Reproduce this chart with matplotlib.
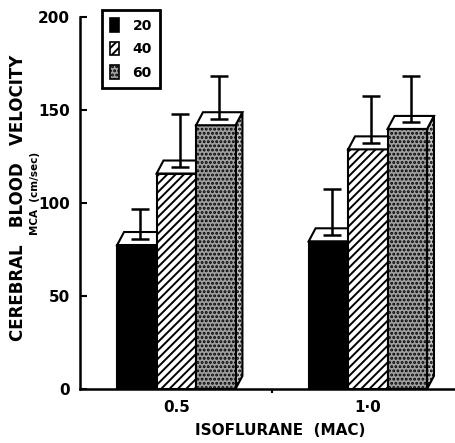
import matplotlib.pyplot as plt
from matplotlib.patches import Polygon, Patch

plt.rcParams['font.family'] = ['DejaVu Sans']
plt.rcParams['font.weight'] = 'bold'
plt.rcParams['hatch.linewidth'] = 1.4

mac_labels = ['0.5', '1·0']
group_labels = ['20', '40', '60']
means = [[77.5, 116, 142],
         [79.5, 129, 140]]
sds = [[19.5, 32, 26.5],
       [28, 29, 28.5]]

faces = ['black', 'white', '#a0a0a0']
hatches = [None, '////', '....']
side_faces = ['black', 'white', '#c4c4c4']

w = 0.206     # bar width
dx = 0.036    # depth of the 3D top face (x)
dy = 7.0      # depth of the 3D top face (y)

fig = plt.figure(figsize=(4.56, 4.43), dpi=100)
ax = fig.add_axes([0.175, 0.122, 0.825, 0.8385])

for m in range(len(mac_labels)):
    for i in range(len(group_labels)):
        x0 = m + (i - 1.5) * w
        h = means[m][i]
        # side face
        side = Polygon([(x0 + w, 0), (x0 + w + dx, dy), (x0 + w + dx, h + dy), (x0 + w, h)],
                       closed=True, facecolor=side_faces[i], edgecolor='black',
                       hatch=hatches[i], linewidth=1.5, zorder=2 + i)
        ax.add_patch(side)
        # front face
        ax.bar(x0, h, width=w, align='edge', color=faces[i], hatch=hatches[i],
               edgecolor='black', linewidth=1.5, zorder=2 + i)
        # top face
        top = Polygon([(x0, h), (x0 + w, h), (x0 + w + dx, h + dy), (x0 + dx, h + dy)],
                      closed=True, facecolor='white', edgecolor='black',
                      linewidth=1.5, zorder=2 + i)
        ax.add_patch(top)
        ax.errorbar(x0 + w / 2 + dx / 2, h + dy / 2, yerr=[[0], [sds[m][i] - dy / 2]],
                    fmt='none', ecolor='black', elinewidth=1.8, capsize=6.5,
                    capthick=1.8, zorder=10)

ax.set_xlim(-0.504, 1.46)
ax.set_ylim(0, 200)
ax.set_yticks([0, 50, 100, 150, 200])
ax.set_xticks([0, 1])
ax.set_xticklabels(mac_labels, fontsize=11, fontweight='bold')
ax.set_xticks([0.5], minor=True)
ax.tick_params(axis='x', which='major', length=0, pad=8)
ax.tick_params(axis='x', which='minor', length=3, width=1.5, direction='out')
ax.tick_params(axis='y', direction='in', length=5, width=1.5, labelsize=11, pad=7)
for lab in ax.get_yticklabels():
    lab.set_fontweight('bold')

ax.spines['top'].set_visible(False)
ax.spines['right'].set_visible(False)
ax.spines['left'].set_linewidth(1.8)
ax.spines['bottom'].set_linewidth(1.8)

fig.text(0.040, 0.553, 'CEREBRAL   BLOOD   VELOCITY', rotation=90, ha='center', va='center',
         fontsize=12, fontweight='bold')
fig.text(0.077, 0.564, 'MCA  (cm/sec)', rotation=90, ha='center', va='center',
         fontsize=7.5, fontweight='bold')
fig.text(0.614, 0.029, 'ISOFLURANE  (MAC)', ha='center', va='center',
         fontsize=11, fontweight='bold')

handles = [Patch(facecolor=faces[i], hatch=hatches[i], edgecolor='black', linewidth=1.2)
           for i in range(len(group_labels))]
leg = ax.legend(handles, group_labels, loc='upper left',
                bbox_to_anchor=(102 / 456, 1 - 10 / 443), bbox_transform=fig.transFigure,
                fancybox=False, edgecolor='black', framealpha=1, fontsize=10,
                handlelength=0.6, handleheight=1.1, handletextpad=1.0,
                borderpad=0.6, labelspacing=0.65, borderaxespad=0)
leg.get_frame().set_linewidth(2)
leg.set_zorder(20)

fig.savefig('out.png', dpi=100)
